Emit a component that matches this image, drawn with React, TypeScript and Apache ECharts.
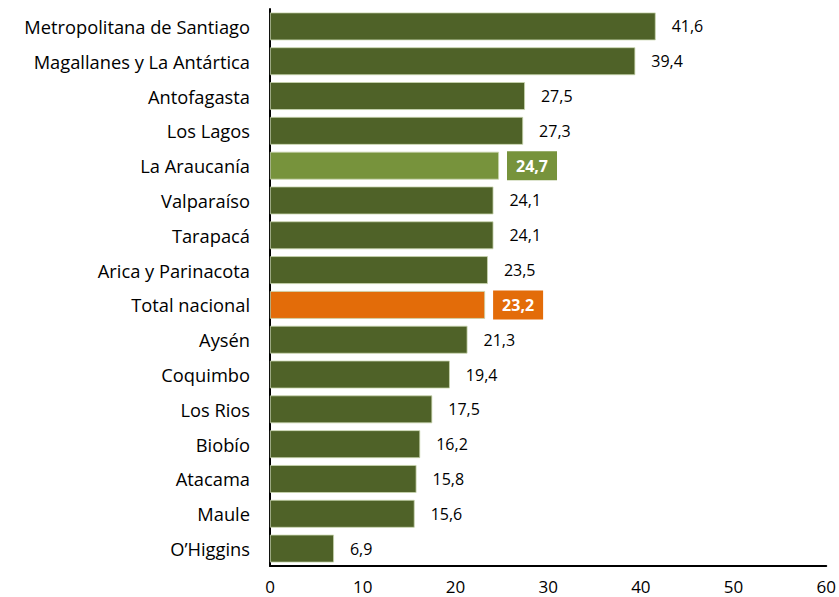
import React, { useEffect, useRef } from "react";
import * as echarts from "echarts";

const categories = [
  "Metropolitana de Santiago",
  "Magallanes y La Antártica",
  "Antofagasta",
  "Los Lagos",
  "La Araucanía",
  "Valparaíso",
  "Tarapacá",
  "Arica y Parinacota",
  "Total nacional",
  "Aysén",
  "Coquimbo",
  "Los Rios",
  "Biobío",
  "Atacama",
  "Maule",
  "O’Higgins",
];
const values = [41.6, 39.4, 27.5, 27.3, 24.7, 24.1, 24.1, 23.5, 23.2, 21.3, 19.4, 17.5, 16.2, 15.8, 15.6, 6.9];
const highlightLight = "La Araucanía";
const highlightTotal = "Total nacional";
const xTicks = { min: 0, max: 60, interval: 10 };

const FONT = "'Open Sans', sans-serif";
const DARK = "#4F6228";
const LIGHT = "#77933C";
const ORANGE = "#E36C09";

export default function App() {
  const ref = useRef<HTMLDivElement>(null);
  useEffect(() => {
    if (!ref.current) return;
    const chart = echarts.init(ref.current, undefined, { renderer: "svg" });
    const fmt = (p: any) => String(p.value).replace(".", ",");
    const data = values.map((v, i) => {
      const c = categories[i];
      if (c === highlightLight || c === highlightTotal) {
        const col = c === highlightLight ? LIGHT : ORANGE;
        return {
          value: v,
          itemStyle: { color: col },
          label: {
            backgroundColor: col,
            color: "#fff",
            fontWeight: "bold",
            padding: [7, 9, 6, 9],
            distance: 8,
          },
        };
      }
      return { value: v };
    });
    chart.setOption({
      animation: false,
      grid: { left: 270, right: 11, top: 9, bottom: 31, containLabel: false },
      xAxis: {
        type: "value",
        min: xTicks.min,
        max: xTicks.max,
        interval: xTicks.interval,
        axisLine: { show: true, lineStyle: { color: "#000", width: 2 } },
        axisTick: { show: false },
        splitLine: { show: false },
        axisLabel: { color: "#000", fontSize: 17, fontFamily: FONT, margin: 12 },
      },
      yAxis: {
        type: "category",
        data: categories,
        inverse: true,
        axisLine: { show: true, lineStyle: { color: "#000", width: 2 } },
        axisTick: { show: false },
        axisLabel: { color: "#000", fontSize: 18.3, fontFamily: FONT, margin: 20 },
      },
      series: [
        {
          type: "bar",
          data,
          barCategoryGap: "20%",
          itemStyle: { color: DARK, borderColor: "#c9d6ae", borderWidth: 0.8 },
          label: {
            show: true,
            position: "right",
            distance: 16,
            formatter: fmt,
            color: "#000",
            fontSize: 16,
            fontFamily: FONT,
          },
        },
      ],
    });
    return () => chart.dispose();
  }, []);
  return (
    <div
      ref={ref}
      style={{ position: "fixed", left: 0, top: 0, width: 839, height: 597, background: "#fff" }}
    />
  );
}
